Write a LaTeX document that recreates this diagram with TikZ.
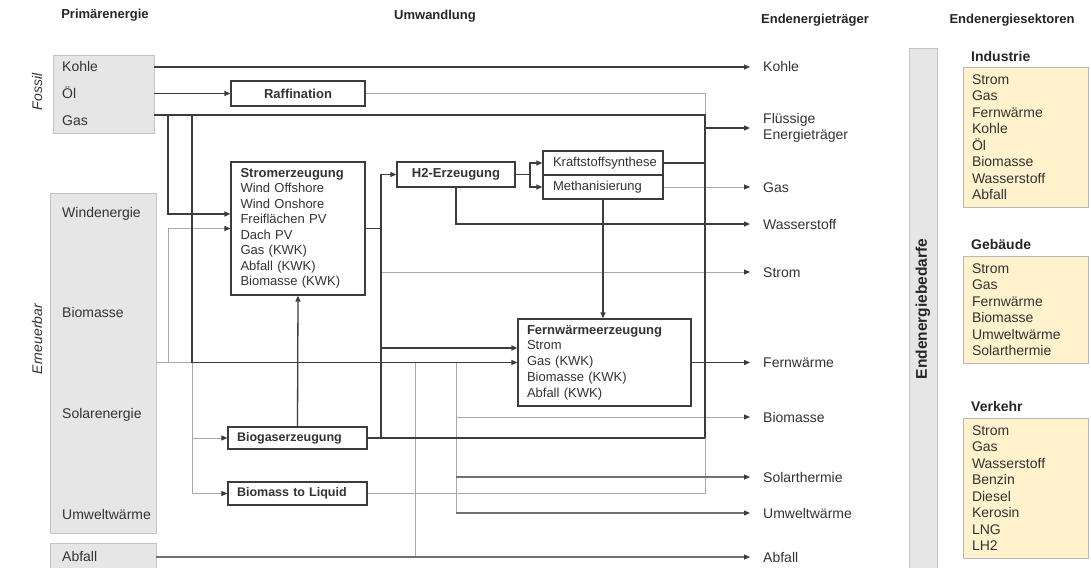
\documentclass[tikz,border=0pt]{standalone}
\usepackage{fontspec}
\setmainfont{Liberation Sans}
\usetikzlibrary{arrows.meta}
\definecolor{dk}{HTML}{3C3C3C}
\definecolor{md}{HTML}{707070}
\definecolor{lg}{HTML}{A8A8A8}
\definecolor{boxgrey}{HTML}{E6E6E6}
\definecolor{boxedge}{HTML}{C4C4C4}
\definecolor{sector}{HTML}{FFF2CC}
\definecolor{sectoredge}{HTML}{B8B8B8}
\definecolor{txt}{HTML}{333333}
\begin{document}
\begin{tikzpicture}[x=1pt,y=-1pt,
  dline/.style={draw=dk, line width=1.3pt},
  mline/.style={draw=md, line width=1.1pt},
  gline/.style={draw=lg, line width=0.9pt},
  arr/.style={-{Triangle[length=6pt,width=5pt,color=dk]}},
  pbox/.style={draw=dk, line width=1.2pt, fill=white, inner sep=0pt, text=txt},
  gbox/.style={draw=boxedge, line width=0.9pt, fill=boxgrey, inner sep=0pt},
  sbox/.style={draw=sectoredge, line width=0.9pt, fill=sector, inner sep=0pt, text=txt, align=left, text width=107pt, minimum width=125pt, font=\fontsize{14}{16.5}\selectfont},
  lbl/.style={anchor=west, inner sep=0pt, text height=10pt, text depth=0pt, text=txt, font=\fontsize{14}{16.5}\selectfont},
  hdr/.style={inner sep=0pt, text=black!85, font=\bfseries\fontsize{13}{15}\selectfont},
  stitle/.style={anchor=west, inner sep=0pt, text height=10pt, text depth=0pt, text=black!85, font=\bfseries\fontsize{14}{16}\selectfont},
  side/.style={rotate=90, inner sep=0pt, text=txt, font=\itshape\fontsize{14}{16}\selectfont}
]
\clip (0,0) rectangle (1091,567);
\fill[white] (0,0) rectangle (1091,567);

% headers
\node[hdr] (hP) at (105,15) {Primärenergie};
\node[hdr] (hU) at (435,16) {Umwandlung};
\node[hdr] (hE) at (815,20) {Endenergieträger};
\node[hdr] (hS) at (1012,20) {Endenergiesektoren};

% left primary boxes
\node[gbox, minimum width=101pt, minimum height=78pt] (fossil) at (103.5,94) {};
\node[gbox, minimum width=106pt, minimum height=340pt] (ern) at (103,363) {};
\node[gbox, minimum width=106pt, minimum height=34pt] (abf) at (103,560) {};
\node[lbl] (tKohle) at (62,67) {Kohle};
\node[lbl] (tOel) at (62,94) {Öl};
\node[lbl] (tGas) at (62,120) {Gas};
\node[lbl] (tWind) at (62,212) {Windenergie};
\node[lbl] (tBio) at (62,312) {Biomasse};
\node[lbl] (tSol) at (62,413) {Solarenergie};
\node[lbl] (tUmw) at (62,514) {Umweltwärme};
\node[lbl] (tAbf) at (62,556) {Abfall};
\node[side] (tFossil) at (37,92) {Fossil};
\node[side] (tErn) at (37,339) {Erneuerbar};

% process boxes
\node[pbox, minimum width=134pt, minimum height=25pt, font=\bfseries\fontsize{13}{15}\selectfont] (raff) at (298,93.5) {Raffination};
\node[pbox, minimum width=134pt, minimum height=133pt, text width=115pt, align=left, font=\fontsize{13}{15.5}\selectfont] (strom) at (298,228.5) {\textbf{Stromerzeugung}\\Wind Offshore\\Wind Onshore\\Freiflächen PV\\Dach PV\\Gas (KWK)\\Abfall (KWK)\\Biomasse (KWK)};
\node[pbox, minimum width=118pt, minimum height=25pt, font=\bfseries\fontsize{13}{15}\selectfont] (h2) at (456,174.5) {H2-Erzeugung};
\node[pbox, minimum width=120pt, minimum height=24pt, text width=100pt, align=left, font=\fontsize{13}{15}\selectfont] (ks) at (603,163) {Kraftstoffsynthese};
\node[pbox, minimum width=120pt, minimum height=24pt, text width=100pt, align=left, font=\fontsize{13}{15}\selectfont] (meth) at (603,187) {Methanisierung};
\node[pbox, minimum width=173pt, minimum height=87pt, text width=155pt, align=left, font=\fontsize{13}{15.75}\selectfont] (fw) at (604.5,362.5) {\textbf{Fernwärmeerzeugung}\\Strom\\Gas (KWK)\\Biomasse (KWK)\\Abfall (KWK)};
\node[pbox, minimum width=139pt, minimum height=22pt, text width=121pt, align=left, font=\bfseries\fontsize{12.5}{15}\selectfont] (biogas) at (297.5,438) {Biogaserzeugung};
\node[pbox, minimum width=139pt, minimum height=23pt, text width=121pt, align=left, font=\bfseries\fontsize{12.5}{15}\selectfont] (btl) at (297.5,493.5) {Biomass to Liquid};

% output coordinates
\coordinate (oKohle) at (750,67);
\coordinate (oFl) at (750,128);
\coordinate (oGas) at (750,187);
\coordinate (oH2) at (750,224);
\coordinate (oStrom) at (750,272);
\coordinate (oFw) at (750,362.5);
\coordinate (oBio) at (750,417);
\coordinate (oSol) at (750,477);
\coordinate (oUmw) at (750,513);
\coordinate (oAbf) at (750,557);

% junctions
\coordinate (g1) at (168,115);
\coordinate (g2) at (192,115);
\coordinate (sA) at (168,214);
\coordinate (v1) at (705,115);
\coordinate (vFl) at (705,128);
\coordinate (vKs) at (705,163);
\coordinate (vBg) at (705,438);
\coordinate (vBtl) at (705,493.5);
\coordinate (e1) at (168,362.5);
\coordinate (e2) at (192,362.5);
\coordinate (b1) at (381,174.5);
\coordinate (bStr) at (381,228.5);
\coordinate (bStrom) at (381,272);
\coordinate (bFw) at (381,348);
\coordinate (bBg) at (381,438);
\coordinate (hs) at (530,174.5);
\coordinate (r1) at (456,362.5);
\coordinate (rBio) at (456,417);
\coordinate (rSol) at (456,477);
\coordinate (r2) at (456,513);
\coordinate (a1) at (415,557);
\coordinate (a2) at (415,362.5);

% grey connectors
\draw[gline] (raff.east) -| (vFl);
\draw[gline, arr] (e1) |- (strom.west);
\draw[gline, arr] (ern.east |- e1) -- (e2) |- (btl.west);
\draw[gline, arr] (e2 |- biogas.west) -- (biogas.west);
\draw[gline] (btl.east) -- (vBtl) -- (vBg);
\draw[gline, arr] (bStrom) -- (oStrom);
\draw[gline, arr] (meth.east) -- (oGas);
\draw[gline] (r1) -- (r2);
\draw[gline, arr] (rBio) -- (oBio);
\draw[mline, arr] (rSol) -- (oSol);
\draw[mline, arr] (r2) -- (oUmw);
\draw[gline] (a2) -- (a1);
\draw[mline, arr] (abf.east |- oAbf) -- (oAbf);

% dark connectors
\draw[dline, arr] (fossil.east |- oKohle) -- (oKohle);
\draw[dline, arr] (fossil.east |- raff.west) -- (raff.west);
\draw[dline] (fossil.east |- v1) -- (v1) -- (vBg);
\draw[dline, arr] (vFl) -- (oFl);
\draw[dline] (ks.east) -- (vKs);
\draw[dline, arr] (g1) -- (sA) -- (strom.west |- sA);
\draw[dline, arr] (g2) -- (e2) -- (fw.west);
\draw[dline] (strom.east) -- (bStr);
\draw[dline, arr] (bBg) -- (b1) -- (h2.west);
\draw[dline, arr] (bFw) -- (fw.west |- bFw);
\draw[dline] (biogas.east) -- (vBg);
\draw[dline, arr] (biogas.north) -- (strom.south);
\draw[dline] (h2.east) -- (hs);
\draw[dline, arr] (hs) |- (ks.west);
\draw[dline, arr] (hs) |- (meth.west);
\draw[dline, arr] (h2.south) |- (oH2);
\draw[dline, arr] (meth.south) -- (meth.south |- fw.north);
\draw[dline, arr] (fw.east) -- (oFw);

% output labels
\node[lbl] (lKohle) at (763,67) {Kohle};
\node[anchor=west, inner sep=0pt, text=txt, align=left, font=\fontsize{14}{16.5}\selectfont] (lFl) at (763,128) {Flüssige\\Energieträger};
\node[lbl] (lGas) at (763,187) {Gas};
\node[lbl] (lH2) at (763,224) {Wasserstoff};
\node[lbl] (lStrom) at (763,272) {Strom};
\node[lbl] (lFw) at (763,362.5) {Fernwärme};
\node[lbl] (lBio) at (763,417) {Biomasse};
\node[lbl] (lSol) at (763,477) {Solarthermie};
\node[lbl] (lUmw) at (763,513) {Umweltwärme};
\node[lbl] (lAbf) at (763,557) {Abfall};

% Endenergiebedarfe bar
\node[gbox, minimum width=28pt, minimum height=527pt] (bar) at (923,311.5) {};
\node[rotate=90, inner sep=0pt, text=black!85, font=\bfseries\fontsize{15.5}{18}\selectfont] (tBar) at (923,309) {Endenergiebedarfe};

% sectors
\node[stitle] (tInd) at (971,57) {Industrie};
\node[sbox, minimum height=140pt] (ind) at (1025.5,137) {Strom\\Gas\\Fernwärme\\Kohle\\Öl\\Biomasse\\Wasserstoff\\Abfall};
\node[stitle] (tGeb) at (971,244) {Gebäude};
\node[sbox, minimum height=107pt] (geb) at (1025.5,309.5) {Strom\\Gas\\Fernwärme\\Biomasse\\Umweltwärme\\Solarthermie};
\node[stitle] (tVer) at (971,406) {Verkehr};
\node[sbox, minimum height=140pt] (ver) at (1025.5,488) {Strom\\Gas\\Wasserstoff\\Benzin\\Diesel\\Kerosin\\LNG\\LH2};
\end{tikzpicture}
\end{document}
